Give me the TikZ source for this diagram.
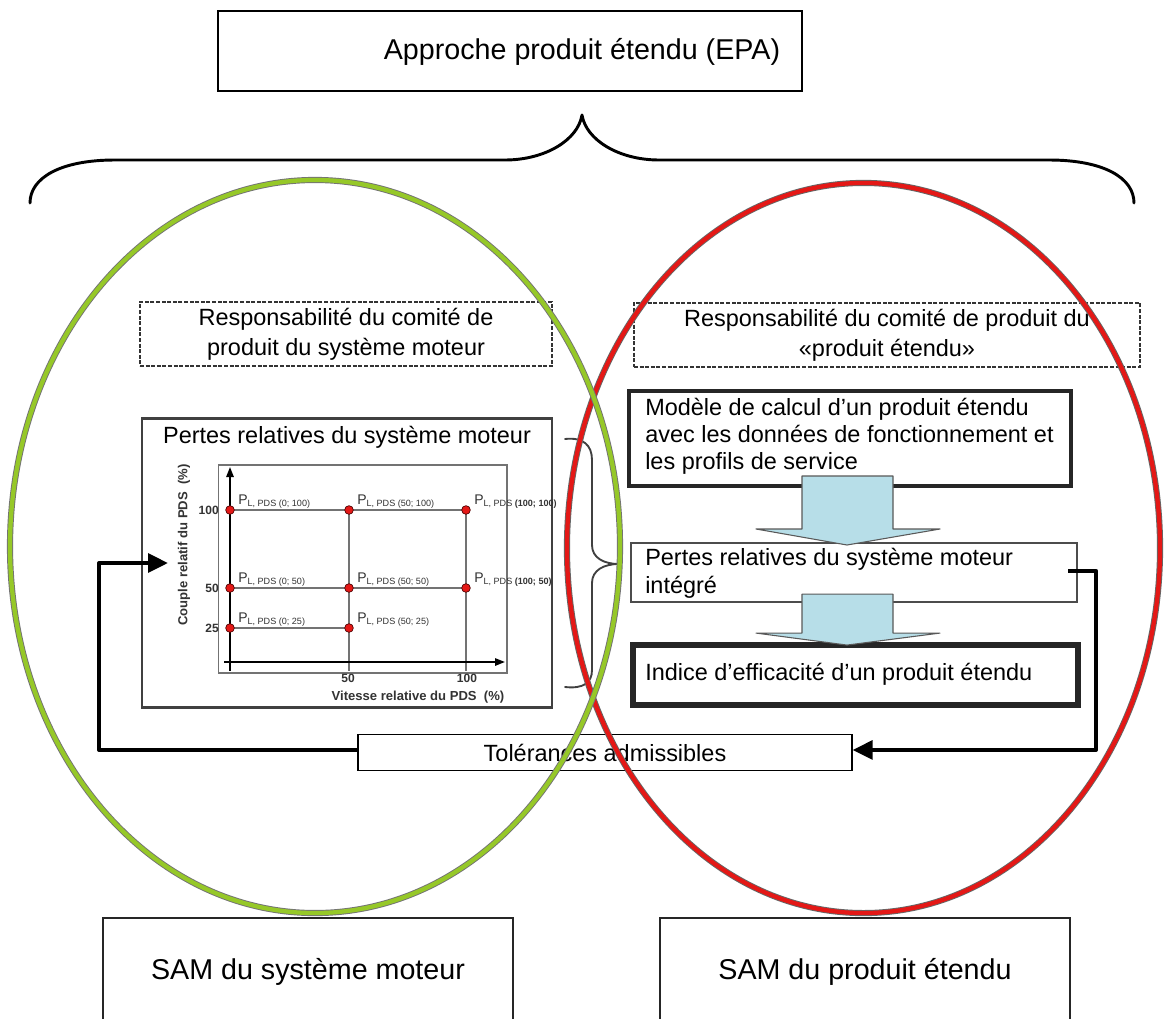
\documentclass[tikz,border=0pt]{standalone}
\usepackage{fontspec}
\setmainfont{Liberation Sans}
\usetikzlibrary{arrows.meta}

\definecolor{ringgreen}{RGB}{150,200,40}
\definecolor{ringred}{RGB}{228,24,22}
\definecolor{flowblue}{RGB}{183,222,232}
\definecolor{inkgray}{RGB}{51,51,51}

\newcommand\bigsz{\fontsize{21.5pt}{26pt}\selectfont}
\newcommand\midsz{\fontsize{17.6pt}{20.2pt}\selectfont}
\newcommand\plab[1]{{\fontsize{10.5pt}{12pt}\selectfont P}\raisebox{-1.6pt}{\fontsize{6.8pt}{8pt}\selectfont L, PDS #1}}

\begin{document}
\begin{tikzpicture}[x=0.75pt,y=-0.75pt,
  boxframe/.style={draw=black, line width=1.5pt, fill=white, inner sep=0pt},
  dashframe/.style={draw=black!80, line width=1.5pt, dash pattern=on 3pt off 1.2pt,
    fill=white, inner sep=0pt, align=center, font=\fontsize{17.6pt}{22.5pt}\selectfont},
  chartframe/.style={draw=black!75, line width=1.8pt, fill=white, inner sep=0pt},
  plotframe/.style={draw=black!55, line width=0.8pt, fill=white, inner sep=0pt},
  flowframe/.style={draw=black!85, fill=white, inner sep=0pt},
  samframe/.style={draw=black!85, line width=2.2pt, fill=white, inner sep=0pt, font=\bigsz},
  bigtext/.style={inner sep=0pt, font=\bigsz},
  midtext/.style={inner sep=0pt, font=\midsz, align=left},
  brace/.style={draw=black, line width=2.2pt, line cap=round, line join=round},
  smallbrace/.style={draw=black!75, line width=1.4pt, line cap=round},
  gridline/.style={draw=black!55, line width=0.8pt},
  axisline/.style={draw=black, line width=1.4pt, -{Triangle[length=7.5pt,width=5.5pt]}},
  dot/.style={circle, fill=ringred, draw=black!70!red, line width=0.5pt, minimum size=6.5pt, inner sep=0pt},
  ptlabel/.style={inner sep=0pt, anchor=base west, xshift=6pt, yshift=4.5pt, text=inkgray},
  tick/.style={inner sep=0pt, font=\fontsize{9pt}{10pt}\selectfont\bfseries, text=inkgray},
  axistitle/.style={inner sep=0pt, font=\fontsize{9.8pt}{11pt}\selectfont\bfseries, text=inkgray},
  flowarrow/.style={draw=black!65, fill=flowblue, line width=0.8pt, line join=round},
  feedback/.style={draw=black, line width=3pt, line join=round,
    -{Triangle[length=15pt,width=14pt]}},
  ring/.style={line width=4.6pt},
]
\useasboundingbox (0,0) rectangle (1168,1018);

% heading box
\node[boxframe, minimum width=438pt, minimum height=60pt] (epa) at (510,51) {};
\node[bigtext] (epatxt) at (582,52) {Approche produit étendu (EPA)};

% wide brace under the heading
\draw[brace] (30,203) .. controls (30,178) and (60,160) .. (115,160) -- (505,160)
  .. controls (545,160) and (578,140) .. (582,115)
  .. controls (586,140) and (619,160) .. (659,160) -- (1049,160)
  .. controls (1104,160) and (1134,178) .. (1134,203);

% committee responsibility boxes
\node[dashframe, minimum width=309pt, minimum height=48pt] (respL) at (346,334)
  {Responsabilité du comité de\\produit du système moteur};
\node[dashframe, minimum width=379.5pt, minimum height=48pt] (respR) at (887,335)
  {Responsabilité du comité de produit du\\«produit étendu»};

% chart of relative losses
\node[chartframe, minimum width=307.5pt, minimum height=217pt] (chart) at (347,563) {};
\node[midtext] (charttitle) at (347,437) {Pertes relatives du système moteur};
\node[plotframe, minimum width=216.3pt, minimum height=156pt] (plot) at (362.8,569) {};

\coordinate (pA1) at (230,510);
\coordinate (pB1) at (349,510);
\coordinate (pC1) at (466,510);
\coordinate (pA2) at (230,588);
\coordinate (pB2) at (349,588);
\coordinate (pC2) at (466,588);
\coordinate (pA3) at (230,628);
\coordinate (pB3) at (349,628);
\coordinate (bB) at (349,671);
\coordinate (bC) at (466,671);
\coordinate (yb) at (230,671);
\coordinate (yt) at (230,467);
\coordinate (xl) at (224,662);
\coordinate (xr) at (505,662);

\draw[gridline] (pA1) -- (pC1);
\draw[gridline] (pA2) -- (pC2);
\draw[gridline] (pA3) -- (pB3);
\draw[gridline] (pB1) -- (bB);
\draw[gridline] (pC1) -- (bC);
\draw[axisline] (yb) -- (yt);
\draw[axisline] (xl) -- (xr);

\foreach \p in {pA1,pB1,pC1,pA2,pB2,pC2,pA3,pB3}
  \node[dot] (dot\p) at (\p) {};

\node[ptlabel] (lA1) at (pA1) {\plab{(0; 100)}};
\node[ptlabel] (lB1) at (pB1) {\plab{(50; 100)}};
\node[ptlabel] (lC1) at (pC1) {\plab{\textbf{(100; 100)}}};
\node[ptlabel] (lA2) at (pA2) {\plab{(0; 50)}};
\node[ptlabel] (lB2) at (pB2) {\plab{(50; 50)}};
\node[ptlabel] (lC2) at (pC2) {\plab{\textbf{(100; 50)}}};
\node[ptlabel] (lA3) at (pA3) {\plab{(0; 25)}};
\node[ptlabel] (lB3) at (pB3) {\plab{(50; 25)}};

\node[tick, anchor=east] (t100) at (219,510) {100};
\node[tick, anchor=east] (t50) at (219,588) {50};
\node[tick, anchor=east] (t25) at (219,628) {25};
\node[tick] (b50) at (348,678) {50};
\node[tick] (b100) at (467,678) {100};
\node[axistitle] (xtitle) at (418,697) {Vitesse relative du PDS~~(\%)};
\node[axistitle, rotate=90] (ytitle) at (184,545) {Couple relatif du PDS~~(\%)};

% brace gathering the chart
\draw[smallbrace] (565,439) .. controls (583,437) and (592,445) .. (592,460) -- (592,545)
  .. controls (592,558) and (604,564) .. (619,564)
  .. controls (604,564) and (592,570) .. (592,583) -- (592,670)
  .. controls (592,683) and (583,689) .. (565,687);

% extended product calculation chain
\node[flowframe, line width=3pt, minimum width=331.5pt, minimum height=71.25pt] (b1) at (849.5,438.5) {};
\node[midtext, anchor=west] (b1t) at (645,436)
  {Modèle de calcul d’un produit étendu\\avec les données de fonctionnement et\\les profils de service};
\node[flowframe, line width=1.6pt, draw=black!70, minimum width=334.5pt, minimum height=44.25pt] (b2) at (854,572.5) {};
\node[midtext, anchor=west, font=\fontsize{17.6pt}{21pt}\selectfont] (b2t) at (645,573)
  {Pertes relatives du système moteur\\intégré};
\node[flowframe, line width=3.8pt, minimum width=333.75pt, minimum height=45pt] (b3) at (855.5,675) {};
\node[midtext, anchor=west] (b3t) at (645,674) {Indice d’efficacité d’un produit étendu};

\draw[flowarrow] (b1.south) ++(-47.5,-12) -- ++(91,0) -- ++(0,53) -- ++(47,0)
  -- ++(-93,16) -- ++(-91,-16) -- ++(46,0) -- cycle;
\draw[flowarrow] (b2.south) ++(-52,-9) -- ++(91,0) -- ++(0,39) -- ++(47,0)
  -- ++(-93,12) -- ++(-91,-12) -- ++(46,0) -- cycle;

% admissible tolerances and feedback loops
\node[boxframe, line width=1.4pt, minimum width=370pt, minimum height=27pt,
  font=\fontsize{17.6pt}{20pt}\selectfont] (tol) at (605,752.5) {Tolérances admissibles};

\coordinate (loopL) at (99,563);
\coordinate (chartin) at (168,563);
\draw[feedback] ([yshift=1.9pt]tol.west) -| (loopL) -- (chartin);
\draw[feedback] ([xshift=-7.5pt,yshift=1.2pt]b2.east) -- ++(28,0) |- ([yshift=1.9pt]tol.east);

% bottom boxes
\node[samframe, minimum width=307.5pt, minimum height=81pt] (samL) at (308,972) {SAM du système moteur};
\node[samframe, minimum width=307.5pt, minimum height=81pt] (samR) at (865,972) {SAM du produit étendu};

% the two scopes
\draw[ring, draw=black!60] (863.5,548) ellipse [x radius=222.4pt, y radius=273.8pt];
\draw[ring, line width=3.2pt, draw=ringred] (863.5,548) ellipse [x radius=222.4pt, y radius=273.8pt];
\draw[ring, draw=black!55] (315,546.5) ellipse [x radius=228.75pt, y radius=274.9pt];
\draw[ring, line width=3.2pt, draw=ringgreen] (315,546.5) ellipse [x radius=228.75pt, y radius=274.9pt];
\end{tikzpicture}
\end{document}
